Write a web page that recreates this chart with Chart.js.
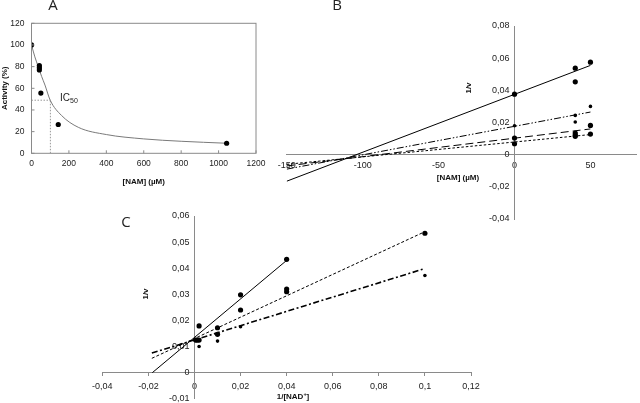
<!DOCTYPE html>
<html>
<head>
<meta charset="utf-8">
<script src="https://cdn.jsdelivr.net/npm/chart.js@4.4.1/dist/chart.umd.min.js"></script>
<style>
  html, body { margin: 0; padding: 0; background: #fff; overflow: hidden; }
  #wrap { position: relative; width: 640px; height: 403px; }
  #wrap canvas { position: absolute; left: 0; top: 0; }
  .lbl { position: absolute; font-family: 'Liberation Sans', Arial, sans-serif; color: #111; white-space: nowrap; transform: translate(-50%, -50%); line-height: 1; }
  .panel { font-family: 'Open Sans', sans-serif; font-size: 15px; color: #222; }
  .ttl { font-size: 8px; font-weight: bold; }
  .rot { transform: translate(-50%, -50%) rotate(-90deg); }
  .ic { font-size: 10px; color: #222; transform: none; }
  .ic sub { font-size: 7px; vertical-align: -2px; }
  .ttl sup { font-size: 5.5px; vertical-align: 3px; }
</style>
</head>
<body>
<div id="wrap">
  <canvas id="chartA" width="640" height="403"></canvas>
  <canvas id="chartB" width="640" height="403"></canvas>
  <canvas id="chartC" width="640" height="403"></canvas>
  <div class="lbl panel" style="left:53px;top:4px">A</div>
  <div class="lbl panel" style="left:337px;top:4px">B</div>
  <div class="lbl panel" style="left:126px;top:221px">C</div>
  <div class="lbl ic" style="left:60px;top:93px">IC<sub>50</sub></div>
  <div class="lbl ttl rot" style="left:469px;top:88px">1/v</div>
  <div class="lbl ttl" style="left:458px;top:178px">[NAM] (µM)</div>
  <div class="lbl ttl rot" style="left:146px;top:294px">1/v</div>
  <div class="lbl ttl" style="left:293px;top:396px">1/[NAD<sup>+</sup>]</div>
</div>
<script>
// ---- panel A : activity vs [NAM]
const aNam = [0, 42, 42, 42, 50, 143, 1043];
const aActivity = [100, 81, 79, 77, 55.6, 26.6, 9.3];
const aFitNam = [0, 18, 36, 54, 72, 100, 160, 250, 400, 600, 800, 1040];
const aFitActivity = [100, 89, 80, 71, 63, 49, 35, 24, 17.3, 13.3, 11.1, 9.3];
const ic50 = 101;
const ic50Level = 49;
const aTicksX = [0, 200, 400, 600, 800, 1000, 1200];
const aTicksY = [0, 20, 40, 60, 80, 100, 120];

// ---- panel B : Dixon plot
const bBigNam = [0, 40, 40, 50, 50, 0, 0, 40, 40, 40, 50];
const bBigInv = [0.0376, 0.0538, 0.0453, 0.0575, 0.0182, 0.0103, 0.0068, 0.0134, 0.0122, 0.0114, 0.0128];
const bSmallNam = [0, 40, 40, 50];
const bSmallInv = [0.018, 0.0244, 0.0203, 0.030];
const bLineNam = [-150, 50];
const bSolid = [-0.0165, 0.0555];
const bDashDot = [-0.009, 0.0265];
const bLongDash = [-0.007, 0.016];
const bShortDash = [-0.006, 0.0125];
const bTicksX = [-150, -100, -50, 0, 50];
const bTicksY = [-0.04, -0.02, 0, 0.02, 0.04, 0.06, 0.08];

// ---- panel C : Lineweaver-Burk
const cBigNad = [0.04, 0.02, 0.02, 0.04, 0.04, 0.01, 0.01, 0.002, 0.002, 0.0012, 0.0005, 0.1];
const cBigInv = [0.0434, 0.0298, 0.024, 0.032, 0.031, 0.0172, 0.0147, 0.0179, 0.0125, 0.0125, 0.0125, 0.0534];
const cSmallNad = [0.02, 0.01, 0.002, 0.1];
const cSmallInv = [0.0176, 0.0121, 0.01, 0.0372];
const cSolidNad = [-0.0183, 0.04];
const cSolidInv = [0, 0.043];
const cDashNad = [-0.0185, 0.1];
const cDashInv = [0.0055, 0.054];
const cDashDotNad = [-0.0185, 0.099];
const cDashDotInv = [0.0075, 0.0396];
const cTicksX = [-0.04, -0.02, 0, 0.02, 0.04, 0.06, 0.08, 0.1, 0.12];
const cTicksY = [-0.01, 0, 0.01, 0.02, 0.03, 0.04, 0.05, 0.06];

Chart.defaults.font.family = "'Liberation Sans', Arial, sans-serif";
Chart.defaults.color = '#222';
Chart.defaults.animation = false;
Chart.defaults.plugins.legend.display = false;
Chart.defaults.plugins.tooltip.enabled = false;

const AXIS = '#8a8a8a';
const fmt = v => String(Math.round(v * 1000) / 1000).replace('.', ',');
const pts = (xs, ys) => xs.map((x, i) => ({ x, y: ys[i] }));
const fixTicks = list => s => { s.ticks = list.map(v => ({ value: v })); };
const noPad = s => { s.paddingLeft = 0; s.paddingRight = 0; s.paddingTop = 0; s.paddingBottom = 0; };

function dots(xs, ys, r) {
    return { data: pts(xs, ys), pointRadius: r, pointBackgroundColor: '#000', pointBorderWidth: 0, showLine: false, order: 0 };
}
function line(xs, ys, dash, width, color) {
    return {
        data: pts(xs, ys), showLine: true, pointRadius: 0, borderColor: color || '#000',
        borderWidth: width || 1, borderDash: dash || [], fill: false, order: 1
    };
}

// box round panel A with small inward ticks
const frameA = {
    id: 'frameA',
    afterDatasetsDraw(chart) {
        const { ctx, chartArea: a, scales: { x, y } } = chart;
        ctx.save();
        ctx.strokeStyle = AXIS;
        ctx.lineWidth = 1;
        ctx.strokeRect(a.left, a.top, a.right - a.left, a.bottom - a.top);
        ctx.beginPath();
        x.ticks.forEach(t => { const p = x.getPixelForValue(t.value); ctx.moveTo(p, a.bottom); ctx.lineTo(p, a.bottom - 3); });
        y.ticks.forEach(t => { const p = y.getPixelForValue(t.value); ctx.moveTo(a.left, p); ctx.lineTo(a.left + 3, p); });
        ctx.stroke();
        ctx.restore();
    }
};

new Chart(document.getElementById('chartA'), {
    type: 'scatter',
    data: {
        datasets: [
            dots(aNam, aActivity, 2.6),
            { ...line(aFitNam, aFitActivity, [], 1, '#7a7a7a'), cubicInterpolationMode: 'monotone' },
            line([0, ic50], [ic50Level, ic50Level], [1.5, 1.5], 1, '#999'),
            line([ic50, ic50], [0, ic50Level], [1.5, 1.5], 1, '#999'),
        ]
    },
    options: {
        responsive: false,
        layout: { padding: { left: 0, top: 23.3, right: 384, bottom: 216 } },
        scales: {
            x: {
                type: 'linear', min: 0, max: 1200,
                afterBuildTicks: fixTicks(aTicksX),
                afterFit: s => { s.height = 33.7; noPad(s); },
                grid: { display: false, drawTicks: false },
                border: { display: false },
                ticks: { padding: 5, font: { size: 8.5 }, callback: v => v },
                title: { display: true, text: '[NAM] (µM)', font: { size: 8, weight: 'bold' }, color: '#111', padding: 0 }
            },
            y: {
                type: 'linear', min: 0, max: 120,
                afterBuildTicks: fixTicks(aTicksY),
                afterFit: s => { s.width = 31.5; noPad(s); },
                grid: { display: false, drawTicks: false },
                border: { display: false },
                ticks: { padding: 7, font: { size: 8.5 }, callback: v => v },
                title: { display: true, text: 'Activity (%)', font: { size: 8, weight: 'bold' }, color: '#111', padding: 0 }
            }
        }
    },
    plugins: [frameA]
});

function centredScales(ticksX, ticksY, minX, maxX, minY, maxY, xTickLen) {
    return {
        x: {
            type: 'linear', min: minX, max: maxX, position: { y: 0 },
            afterBuildTicks: fixTicks(ticksX),
            afterFit: noPad,
            grid: { display: xTickLen > 0, drawOnChartArea: false, drawTicks: xTickLen > 0, tickLength: xTickLen, color: AXIS },
            border: { display: true, color: AXIS },
            ticks: { padding: 5, font: { size: 9 }, callback: v => fmt(v), maxRotation: 0, autoSkip: false }
        },
        y: {
            type: 'linear', min: minY, max: maxY, position: { x: 0 },
            afterBuildTicks: fixTicks(ticksY),
            afterFit: noPad,
            grid: { display: false, drawTicks: false },
            border: { display: true, color: AXIS },
            ticks: { padding: 6, font: { size: 9 }, callback: v => fmt(v) + '  ', autoSkip: false }
        }
    };
}

new Chart(document.getElementById('chartB'), {
    type: 'scatter',
    data: {
        datasets: [
            dots(bBigNam, bBigInv, 2.6),
            dots(bSmallNam, bSmallInv, 1.8),
            line(bLineNam, bSolid),
            line(bLineNam, bDashDot, [7, 2, 1.5, 2, 1.5, 2]),
            line(bLineNam, bLongDash, [8, 4]),
            line(bLineNam, bShortDash, [2.5, 2]),
        ]
    },
    options: {
        responsive: false,
        layout: { padding: { left: 286.7, top: 26, right: 0, bottom: 184 } },
        scales: centredScales(bTicksX, bTicksY, -150, 80, -0.04, 0.08, 0)
    }
});

new Chart(document.getElementById('chartC'), {
    type: 'scatter',
    data: {
        datasets: [
            dots(cBigNad, cBigInv, 2.6),
            dots(cSmallNad, cSmallInv, 1.8),
            line(cSolidNad, cSolidInv),
            line(cDashNad, cDashInv, [3, 2]),
            line(cDashDotNad, cDashDotInv, [6, 2.5, 2, 2.5], 1.6),
        ]
    },
    options: {
        responsive: false,
        layout: { padding: { left: 102.3, top: 216, right: 169, bottom: 4.2 } },
        scales: centredScales(cTicksX, cTicksY, -0.04, 0.12, -0.01, 0.06, 3)
    }
});
</script>
</body>
</html>
